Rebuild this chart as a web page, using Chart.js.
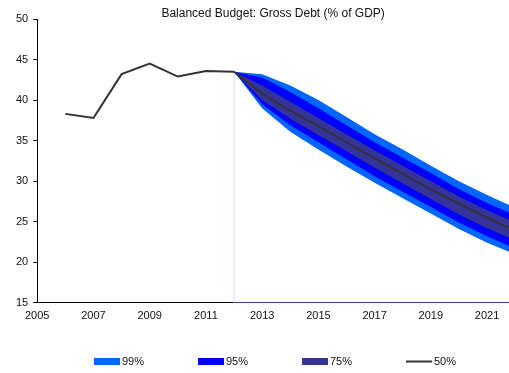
<!DOCTYPE html>
<html>
<head>
<meta charset="utf-8">
<script src="https://cdn.jsdelivr.net/npm/chart.js@4.4.1/dist/chart.umd.min.js"></script>
<style>
  html, body { margin: 0; padding: 0; background: #fff; }
  canvas { display: block; }
</style>
</head>
<body>
<canvas id="fanChart" width="509" height="373"></canvas>
<script>
// Outturn
const histYears = [2006, 2007, 2008, 2009, 2010, 2011, 2012];
const histDebt = [38.3, 37.8, 43.2, 44.5, 42.9, 43.6, 43.5];

// Projection fan
const fanYears = [2012, 2013, 2014, 2015, 2016, 2017, 2018, 2019, 2020, 2021, 2022];
const median  = [43.5, 40.8, 38.7, 36.8, 34.8, 32.8, 30.9, 29.0, 27.2, 25.5, 23.9];
const upper99 = [43.5, 43.2, 41.8, 40.0, 37.9, 35.8, 33.9, 31.9, 30.0, 28.3, 26.7];
const lower99 = [43.5, 39.0, 36.1, 33.9, 31.8, 29.8, 27.9, 26.0, 24.1, 22.4, 21.0];
const upper95 = [43.5, 42.8, 41.0, 39.0, 36.9, 34.8, 32.9, 31.0, 29.0, 27.3, 25.8];
const lower95 = [43.5, 39.5, 36.9, 34.8, 32.7, 30.6, 28.7, 26.8, 24.9, 23.2, 21.7];
const upper75 = [43.5, 41.8, 39.8, 37.8, 35.8, 33.8, 31.9, 30.0, 28.1, 26.4, 24.9];
const lower75 = [43.5, 40.0, 37.7, 35.7, 33.7, 31.7, 29.7, 27.8, 25.9, 24.2, 22.7];

const xTicks = [2005, 2007, 2009, 2011, 2013, 2015, 2017, 2019, 2021];
const yTicks = [15, 20, 25, 30, 35, 40, 45, 50];
const bandLabels = ['99%', '95%', '75%', '50%'];

const C99 = '#0066ff';
const C95 = '#0000ff';
const C75 = '#333399';
const CLINE = '#333333';
const FONT = '"Liberation Sans", Arial, sans-serif';

const pts = (xs, ys) => xs.map((x, i) => ({ x: x, y: ys[i] }));

function band(data, color, fill, order) {
    return {
        data: data,
        borderWidth: 0,
        borderColor: 'transparent',
        backgroundColor: color,
        pointRadius: 0,
        fill: fill,
        order: order
    };
}

const yMin = yTicks[0];
const yMax = yTicks[yTicks.length - 1];
const lastYear = fanYears[fanYears.length - 1];

// title over the plot, centred on the chart area
const titlePlugin = {
    id: 'topTitle',
    afterDraw(chart) {
        const ctx = chart.ctx;
        const area = chart.chartArea;
        ctx.save();
        ctx.font = '12px ' + FONT;
        ctx.fillStyle = '#111';
        ctx.textAlign = 'center';
        ctx.textBaseline = 'middle';
        ctx.fillText('Balanced Budget: Gross Debt (% of GDP)', (area.left + area.right) / 2, 14);
        ctx.restore();
    }
};

// legend row under the x axis
const legendPlugin = {
    id: 'fanLegend',
    afterDraw(chart) {
        const ctx = chart.ctx;
        const colors = [C99, C95, C75, CLINE];
        ctx.save();
        ctx.font = '11px ' + FONT;
        ctx.textBaseline = 'middle';
        bandLabels.forEach((label, i) => {
            const x = 94 + i * 104;
            const y = 361.5;
            if (i < 3) {
                ctx.fillStyle = colors[i];
                ctx.fillRect(x, y - 3.5, 26, 7);
            } else {
                ctx.strokeStyle = colors[i];
                ctx.lineWidth = 2;
                ctx.beginPath();
                ctx.moveTo(x, y);
                ctx.lineTo(x + 26, y);
                ctx.stroke();
            }
            ctx.fillStyle = '#111';
            ctx.fillText(label, x + 28, y);
        });
        ctx.restore();
    }
};

const ctx = document.getElementById('fanChart').getContext('2d');
new Chart(ctx, {
    type: 'line',
    data: {
        datasets: [
            band(pts(fanYears, lower99), C99, false, 3),   // 0
            band(pts(fanYears, upper99), C99, 0, 3),       // 1
            band(pts(fanYears, lower95), C95, false, 2),   // 2
            band(pts(fanYears, upper95), C95, 2, 2),       // 3
            band(pts(fanYears, lower75), C75, false, 1),   // 4
            band(pts(fanYears, upper75), C75, 4, 1),       // 5
            {
                data: pts(fanYears, median),
                borderColor: CLINE,
                borderWidth: 2,
                pointRadius: 0,
                fill: false,
                order: 0
            },
            {
                data: pts(histYears, histDebt),
                borderColor: CLINE,
                borderWidth: 2,
                pointRadius: 0,
                fill: false,
                order: 0
            },
            {
                // start of projection marker
                data: [{ x: fanYears[0], y: yMin }, { x: fanYears[0], y: median[0] }],
                borderColor: '#cfe0ff',
                borderWidth: 1,
                pointRadius: 0,
                fill: false,
                order: 5
            },
            {
                data: [{ x: fanYears[0], y: yMin }, { x: lastYear, y: yMin }],
                borderColor: '#5b8cff',
                borderWidth: 1,
                pointRadius: 0,
                fill: false,
                order: 5
            }
        ]
    },
    options: {
        responsive: false,
        animation: false,
        events: [],
        elements: { line: { tension: 0 } },
        layout: { padding: { left: 11, right: 0, top: 19, bottom: 43 } },
        plugins: {
            legend: { display: false },
            tooltip: { enabled: false },
            filler: { propagate: false }
        },
        scales: {
            x: {
                type: 'linear',
                min: 2005,
                max: 2021.78,
                afterBuildTicks: (scale) => { scale.ticks = xTicks.map(v => ({ value: v })); },
                grid: { display: false, drawTicks: false },
                border: { display: true, color: '#000', width: 1 },
                ticks: {
                    padding: 7,
                    color: '#111',
                    font: { family: FONT, size: 11 },
                    maxRotation: 0,
                    callback: (v) => String(v)
                }
            },
            y: {
                type: 'linear',
                min: yMin,
                max: yMax,
                afterBuildTicks: (scale) => { scale.ticks = yTicks.map(v => ({ value: v })); },
                grid: { display: true, drawOnChartArea: false, drawTicks: true, tickLength: 4, color: '#000' },
                border: { display: true, color: '#000', width: 1 },
                ticks: {
                    padding: 5,
                    color: '#111',
                    font: { family: FONT, size: 11 }
                }
            }
        }
    },
    plugins: [titlePlugin, legendPlugin]
});
</script>
</body>
</html>
